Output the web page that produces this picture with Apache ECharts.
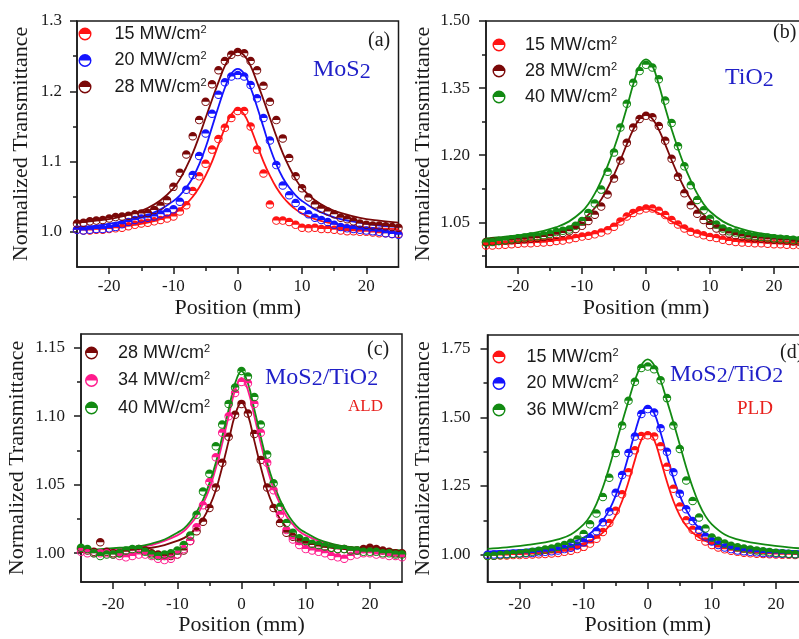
<!DOCTYPE html>
<html>
<head>
<meta charset="utf-8">
<script src="https://cdn.jsdelivr.net/npm/echarts@6/dist/echarts.min.js"></script>
<style>
  html, body { margin: 0; padding: 0; background: #fff; }
  #chart { width: 799px; height: 639px; }
</style>
</head>
<body>
<div id="chart"></div>
<script>
// ---- Z-scan positions (mm) ----
const posX = [-25,-24,-23,-22,-21,-20,-19,-18,-17,-16,-15,-14,-13,-12,-11,-10,-9,-8,-7,-6,-5,-4,-3,-2,-1,
  0,1,2,3,4,5,6,7,8,9,10,11,12,13,14,15,16,17,18,19,20,21,22,23,24,25];
const fitX = [-25,-22,-19,-16,-14,-12,-10,-9,-8,-7,-6,-5,-4,-3,-2,-1,0,1,2,3,4,5,6,7,8,9,10,12,14,16,19,22,25];

// ---- tick labels ----
const xMajorTicks = [-20, -10, 0, 10, 20];
const xMinorTicks = [-15, -5, 5, 15];
const yMajorA = [1.0, 1.1, 1.2, 1.3];      const yMinorA = [1.05, 1.15, 1.25];
const yMajorB = [1.05, 1.20, 1.35, 1.50];  const yMinorB = [0.975, 1.125, 1.275, 1.425];
const yMajorC = [1.00, 1.05, 1.10, 1.15];  const yMinorC = [1.025, 1.075, 1.125];
const yMajorD = [1.00, 1.25, 1.50, 1.75];  const yMinorD = [1.125, 1.375, 1.625];

// ---- (a) MoS2 ----
const aIntensity = [15, 20, 28];
const aPts15 = [1.003,1.002,1.002,1.003,1.003,1.004,1.005,1.006,1.008,1.010,
  1.012,1.013,1.015,1.017,1.019,1.022,1.029,1.038,1.058,1.079,
  1.097,1.117,1.132,1.148,1.162, 1.172,
  1.172,1.150,1.117,1.083,1.039,1.016,1.016,1.014,1.010,1.006,
  1.005,1.006,1.004,1.004,1.003,1.002,1.001,1.001,1.000,1.000,
  0.999,0.998,0.998,0.997,0.997];
const aPts20 = [1.003,1.002,1.003,1.004,1.004,1.005,1.007,1.011,1.014,1.017,
  1.019,1.020,1.022,1.025,1.028,1.032,1.043,1.060,1.081,1.108,
  1.140,1.168,1.195,1.213,1.221, 1.223,
  1.221,1.209,1.190,1.162,1.130,1.095,1.066,1.052,1.041,1.031,
  1.025,1.020,1.017,1.014,1.010,1.007,1.005,1.004,1.003,1.002,
  1.001,1.000,0.998,0.997,0.996];
const aPts28 = [1.012,1.013,1.015,1.016,1.017,1.019,1.021,1.022,1.023,1.025,
  1.026,1.027,1.031,1.037,1.045,1.064,1.084,1.110,1.136,1.159,
  1.185,1.210,1.230,1.243,1.252, 1.256,
  1.254,1.243,1.230,1.208,1.185,1.159,1.133,1.105,1.079,1.062,
  1.049,1.039,1.033,1.029,1.025,1.020,1.018,1.015,1.012,1.010,
  1.009,1.009,1.008,1.007,1.006];
const aFit15 = [1.004,1.005,1.007,1.010,1.013,1.018,1.026,1.032,1.040,1.050,1.063,1.080,1.100,1.124,1.148,1.167,
  1.175, 1.167,1.148,1.124,1.100,1.080,1.063,1.050,1.040,1.032,1.026,1.018,1.013,1.010,1.007,1.005,1.004];
const aFit20 = [1.007,1.009,1.013,1.018,1.024,1.032,1.044,1.052,1.063,1.077,1.096,1.120,1.149,1.178,1.205,1.225,
  1.232, 1.225,1.205,1.178,1.149,1.120,1.096,1.077,1.063,1.052,1.044,1.032,1.024,1.018,1.013,1.009,1.007];
const aFit28 = [1.013,1.016,1.020,1.027,1.034,1.045,1.062,1.075,1.092,1.112,1.136,1.162,1.188,1.213,1.236,1.251,
  1.256, 1.251,1.236,1.213,1.188,1.162,1.136,1.112,1.092,1.075,1.062,1.045,1.034,1.027,1.020,1.016,1.013];

// ---- (b) TiO2 ----
const bIntensity = [15, 28, 40];
const bPts15 = [0.998,0.998,0.999,1.000,1.001,1.002,1.003,1.003,1.004,1.005,
  1.006,1.008,1.009,1.012,1.015,1.018,1.020,1.023,1.027,1.032,
  1.040,1.052,1.063,1.071,1.077, 1.081,
  1.081,1.076,1.066,1.055,1.045,1.036,1.029,1.025,1.021,1.017,
  1.015,1.011,1.008,1.006,1.005,1.004,1.003,1.003,1.002,1.001,
  1.001,1.000,0.999,0.999,0.998];
const bPts28 = [1.006,1.007,1.008,1.009,1.010,1.011,1.012,1.013,1.015,1.017,
  1.019,1.022,1.026,1.030,1.035,1.042,1.053,1.067,1.085,1.112,
  1.148,1.188,1.228,1.262,1.281, 1.288,
  1.285,1.265,1.232,1.192,1.152,1.115,1.088,1.069,1.055,1.044,
  1.036,1.030,1.025,1.021,1.018,1.016,1.014,1.013,1.012,1.011,
  1.010,1.009,1.007,1.006,1.005];
const bPts40 = [1.005,1.006,1.008,1.010,1.012,1.014,1.016,1.018,1.019,1.021,
  1.024,1.028,1.031,1.034,1.042,1.053,1.071,1.092,1.123,1.163,
  1.206,1.262,1.315,1.362,1.388, 1.402,
  1.396,1.370,1.322,1.272,1.220,1.175,1.133,1.100,1.077,1.058,
  1.045,1.036,1.030,1.027,1.024,1.021,1.019,1.017,1.016,1.014,
  1.013,1.012,1.011,1.010,1.009];
const bFit15 = [1.002,1.003,1.005,1.007,1.010,1.014,1.019,1.022,1.026,1.031,1.037,1.044,1.052,1.061,1.070,1.077,
  1.080, 1.077,1.070,1.061,1.052,1.044,1.037,1.031,1.026,1.022,1.019,1.014,1.010,1.007,1.005,1.003,1.002];
const bFit28 = [1.011,1.013,1.017,1.023,1.029,1.039,1.055,1.067,1.082,1.101,1.126,1.156,1.189,1.224,1.257,1.281,
  1.290, 1.281,1.257,1.224,1.189,1.156,1.126,1.101,1.082,1.067,1.055,1.039,1.029,1.023,1.017,1.013,1.011];
const bFit40 = [1.014,1.018,1.023,1.031,1.039,1.052,1.074,1.091,1.114,1.143,1.176,1.215,1.258,1.306,1.358,1.400,
  1.414, 1.400,1.358,1.306,1.258,1.215,1.176,1.143,1.114,1.091,1.074,1.052,1.039,1.031,1.023,1.018,1.014];

// ---- (c) MoS2/TiO2, ALD ----
const cIntensity = [28, 34, 40];
const cPts28 = [1.003,1.002,1.001,1.008,1.001,1.000,1.000,1.001,1.002,1.003,
  1.002,1.000,0.999,0.998,0.998,0.999,1.002,1.009,1.016,1.023,
  1.033,1.048,1.066,1.085,1.101, 1.109,
  1.102,1.087,1.068,1.048,1.033,1.022,1.015,1.012,1.009,1.007,
  1.006,1.005,1.004,1.004,1.003,1.003,1.002,1.002,1.003,1.004,
  1.003,1.002,1.001,1.000,1.000];
const cPts34 = [1.001,1.000,1.000,1.000,1.000,0.999,0.998,0.997,0.998,0.999,
  0.999,0.998,0.996,0.995,0.996,0.999,1.003,1.009,1.019,1.035,
  1.052,1.070,1.088,1.100,1.117, 1.125,
  1.124,1.109,1.088,1.066,1.046,1.028,1.017,1.010,1.006,1.003,
  1.002,1.001,1.000,0.998,0.997,0.996,0.998,0.999,1.000,1.000,
  0.999,0.999,0.998,0.998,0.997];
const cPts40 = [1.004,1.003,1.000,0.998,0.999,0.999,1.000,1.002,1.003,1.003,
  1.001,0.999,0.998,0.999,1.000,1.002,1.006,1.013,1.028,1.045,
  1.058,1.078,1.094,1.109,1.121, 1.133,
  1.129,1.114,1.094,1.072,1.051,1.034,1.022,1.015,1.011,1.009,
  1.007,1.006,1.005,1.004,1.003,1.003,1.002,1.002,1.001,1.001,
  1.001,1.000,1.000,0.999,0.999];
const cFit28 = [1.001,1.001,1.002,1.003,1.004,1.006,1.009,1.011,1.014,1.019,1.025,1.034,1.046,1.063,1.082,1.101,
  1.110, 1.101,1.082,1.063,1.046,1.034,1.025,1.019,1.014,1.011,1.009,1.006,1.004,1.003,1.002,1.001,1.001];
const cFit34 = [1.001,1.002,1.003,1.004,1.006,1.009,1.013,1.016,1.021,1.027,1.036,1.047,1.062,1.080,1.100,1.119,
  1.128, 1.119,1.100,1.080,1.062,1.047,1.036,1.027,1.021,1.016,1.013,1.009,1.006,1.004,1.003,1.002,1.001];
const cFit40 = [1.002,1.003,1.004,1.005,1.007,1.010,1.015,1.018,1.023,1.030,1.039,1.051,1.066,1.085,1.105,1.124,
  1.133, 1.124,1.105,1.085,1.066,1.051,1.039,1.030,1.023,1.018,1.015,1.010,1.007,1.005,1.004,1.003,1.002];

// ---- (d) MoS2/TiO2, PLD ----
const dIntensity = [15, 20, 36];
const dPts15 = [0.996,0.996,0.997,0.997,0.998,0.998,0.999,1.000,1.001,1.002,
  1.004,1.006,1.010,1.014,1.020,1.028,1.040,1.058,1.082,1.115,
  1.160,1.220,1.300,1.380,1.432, 1.435,
  1.430,1.395,1.320,1.240,1.175,1.125,1.090,1.065,1.048,1.035,
  1.026,1.019,1.014,1.010,1.007,1.005,1.003,1.002,1.001,1.000,
  0.999,0.999,0.998,0.998,0.997];
const dPts20 = [0.999,1.000,1.001,1.002,1.003,1.004,1.005,1.006,1.008,1.010,
  1.012,1.015,1.020,1.025,1.033,1.045,1.060,1.085,1.118,1.157,
  1.225,1.290,1.370,1.430,1.512, 1.530,
  1.518,1.460,1.375,1.300,1.222,1.165,1.122,1.090,1.066,1.048,
  1.035,1.026,1.020,1.015,1.012,1.010,1.008,1.006,1.005,1.004,
  1.003,1.002,1.001,1.000,0.999];
const dPts36 = [0.995,0.996,0.998,1.000,1.002,1.004,1.007,1.010,1.014,1.018,
  1.022,1.028,1.035,1.043,1.055,1.075,1.110,1.150,1.210,1.280,
  1.370,1.470,1.560,1.630,1.680, 1.685,
  1.675,1.635,1.570,1.470,1.385,1.270,1.195,1.135,1.095,1.062,
  1.050,1.040,1.032,1.027,1.022,1.018,1.015,1.012,1.009,1.007,
  1.005,1.003,1.001,1.000,0.999];
const dFit15 = [1.006,1.008,1.011,1.016,1.021,1.029,1.041,1.050,1.062,1.080,1.105,1.142,1.195,1.265,1.345,1.418,
  1.445, 1.418,1.345,1.265,1.195,1.142,1.105,1.080,1.062,1.050,1.041,1.029,1.021,1.016,1.011,1.008,1.006];
const dFit20 = [1.011,1.014,1.018,1.025,1.032,1.043,1.062,1.077,1.097,1.125,1.163,1.215,1.280,1.360,1.445,1.515,
  1.541, 1.515,1.445,1.360,1.280,1.215,1.163,1.125,1.097,1.077,1.062,1.043,1.032,1.025,1.018,1.014,1.011];
const dFit36 = [1.021,1.026,1.034,1.044,1.055,1.073,1.110,1.140,1.185,1.245,1.318,1.400,1.482,1.560,1.635,1.690,
  1.711, 1.690,1.635,1.560,1.482,1.400,1.318,1.245,1.185,1.140,1.110,1.073,1.055,1.044,1.034,1.026,1.021];

// ---- styling ----
const INK = '#1a1a1a';
const RED = '#ff1414', BLUE = '#1414ff', WINE = '#7a0808', GREEN = '#128a12', PINK = '#ff1a8c';
const TEXT_BLUE = '#2020c8', TEXT_RED = '#e8201c';
const SERIF = '"Liberation Serif", "Times New Roman", serif';
const SANS = '"Liberation Sans", Arial, sans-serif';
// ring with the upper half filled (lower half left open)
const HALF_DOT = 'path://M0,10A10,10,0,1,1,20,10A10,10,0,1,1,0,10Z' +
  'M2.2,10A7.8,7.8,0,1,0,17.8,10A7.8,7.8,0,1,0,2.2,10Z' +
  'M1.8,10A8.2,8.2,0,0,1,18.2,10Z';

const panels = [
  { grid: { left: 77, top: 21, width: 321.5, height: 246 },
    yMin: 0.95, yMax: 1.3, yMajor: yMajorA, yMinor: yMinorA, dec: 1,
    yNameGap: 45, yLabelMargin: 15, xLabelMargin: 11, xNameGap: 30,
    legend: { left: 78.5, top: 24, gap: 6.5, textGap: 18 },
    series: [
      { id: 'a1', mw: aIntensity[0], color: RED, pts: aPts15, fit: aFit15 },
      { id: 'a2', mw: aIntensity[1], color: BLUE, pts: aPts20, fit: aFit20 },
      { id: 'a3', mw: aIntensity[2], color: WINE, pts: aPts28, fit: aFit28 } ] },
  { grid: { left: 486, top: 21, width: 320, height: 246 },
    yMin: 0.95, yMax: 1.5, yMajor: yMajorB, yMinor: yMinorB, dec: 2,
    yNameGap: 52, yLabelMargin: 16, xLabelMargin: 11, xNameGap: 30,
    legend: { left: 492.5, top: 35, gap: 6, textGap: 14.5 },
    series: [
      { id: 'b1', mw: bIntensity[0], color: RED, pts: bPts15, fit: bFit15 },
      { id: 'b2', mw: bIntensity[1], color: WINE, pts: bPts28, fit: bFit28 },
      { id: 'b3', mw: bIntensity[2], color: GREEN, pts: bPts40, fit: bFit40 } ] },
  { grid: { left: 81, top: 334, width: 321, height: 248 },
    yMin: 0.979, yMax: 1.16, yMajor: yMajorC, yMinor: yMinorC, dec: 2,
    yNameGap: 53, yLabelMargin: 16, xLabelMargin: 14, xNameGap: 32,
    legend: { left: 85, top: 343, gap: 7.5, textGap: 15 },
    series: [
      { id: 'c1', mw: cIntensity[0], color: WINE, pts: cPts28, fit: cFit28 },
      { id: 'c2', mw: cIntensity[1], color: PINK, pts: cPts34, fit: cFit34 },
      { id: 'c3', mw: cIntensity[2], color: GREEN, pts: cPts40, fit: cFit40 } ] },
  { grid: { left: 487.5, top: 335, width: 320.5, height: 247 },
    yMin: 0.9, yMax: 1.8, yMajor: yMajorD, yMinor: yMinorD, dec: 2,
    yNameGap: 53, yLabelMargin: 17, xLabelMargin: 14, xNameGap: 32,
    legend: { left: 492.5, top: 347, gap: 6.5, textGap: 16 },
    series: [
      { id: 'd1', mw: dIntensity[0], color: RED, pts: dPts15, fit: dFit15 },
      { id: 'd2', mw: dIntensity[1], color: BLUE, pts: dPts20, fit: dFit20 },
      { id: 'd3', mw: dIntensity[2], color: GREEN, pts: dPts36, fit: dFit36 } ] }
];

const labelOf = {};
const option = {
  animation: false,
  backgroundColor: '#ffffff',
  grid: [], xAxis: [], yAxis: [], legend: [], series: [], graphic: []
};

const tickLine = { color: INK, width: 1.5 };
const tickFont = { fontFamily: SERIF, fontSize: 17, color: INK };
const nameFont = { fontFamily: SERIF, fontSize: 22, color: INK };

panels.forEach((p, gi) => {
  option.grid.push(Object.assign({ show: true, borderColor: INK, borderWidth: 1.5,
    containLabel: false, outerBoundsMode: 'none' }, p.grid));

  const xi = option.xAxis.length;
  option.xAxis.push({
    type: 'value', gridIndex: gi, min: -25, max: 25, position: 'bottom',
    name: 'Position (mm)', nameLocation: 'middle', nameGap: p.xNameGap, nameTextStyle: nameFont,
    axisLine: { show: true, onZero: false, lineStyle: tickLine },
    axisTick: { show: true, length: 7, lineStyle: tickLine, customValues: xMajorTicks },
    axisLabel: Object.assign({ show: true, margin: p.xLabelMargin, customValues: xMajorTicks,
      formatter: v => String(v) }, tickFont),
    splitLine: { show: false }
  });
  option.xAxis.push({
    type: 'value', gridIndex: gi, min: -25, max: 25, position: 'bottom',
    axisLine: { show: false, onZero: false },
    axisTick: { show: true, length: 4, lineStyle: tickLine, customValues: xMinorTicks },
    axisLabel: { show: false }, splitLine: { show: false }
  });

  const yi = option.yAxis.length;
  option.yAxis.push({
    type: 'value', gridIndex: gi, min: p.yMin, max: p.yMax, position: 'left',
    name: 'Normalized Transmittance', nameLocation: 'middle', nameGap: p.yNameGap,
    nameRotate: 90, nameTextStyle: nameFont,
    axisLine: { show: true, onZero: false, lineStyle: tickLine },
    axisTick: { show: true, length: 7, lineStyle: tickLine, customValues: p.yMajor },
    axisLabel: Object.assign({ show: true, margin: p.yLabelMargin, customValues: p.yMajor,
      formatter: v => Number(v).toFixed(p.dec) }, tickFont),
    splitLine: { show: false }
  });
  option.yAxis.push({
    type: 'value', gridIndex: gi, min: p.yMin, max: p.yMax, position: 'left',
    axisLine: { show: false, onZero: false },
    axisTick: { show: true, length: 4, lineStyle: tickLine, customValues: p.yMinor },
    axisLabel: { show: false }, splitLine: { show: false }
  });

  p.series.forEach(s => {
    labelOf[s.id] = s.mw;
    option.series.push({
      type: 'line', xAxisIndex: xi, yAxisIndex: yi, silent: true,
      data: fitX.map((x, k) => [x, s.fit[k]]),
      smooth: 0.4, showSymbol: false, symbol: 'none',
      lineStyle: { color: s.color, width: 1.8 }, z: 2
    });
  });
  p.series.forEach(s => {
    option.series.push({
      type: 'scatter', name: s.id, xAxisIndex: xi, yAxisIndex: yi,
      data: posX.map((x, k) => [x, s.pts[k]]),
      symbol: HALF_DOT, symbolSize: 8.5,
      itemStyle: { color: s.color, opacity: 1 }, z: 3
    });
  });

  option.legend.push({
    data: p.series.map(s => ({ name: s.id, icon: HALF_DOT })),
    orient: 'vertical', left: p.legend.left, top: p.legend.top, padding: 0,
    itemWidth: 13, itemHeight: 13, itemGap: p.legend.gap, selectedMode: false,
    formatter: name => '{g| }' + labelOf[name] + ' MW/cm{s|2}',
    textStyle: {
      fontFamily: SANS, fontSize: 18, color: INK, lineHeight: 20,
      rich: {
        g: { width: p.legend.textGap, fontSize: 18, lineHeight: 20 },
        s: { fontFamily: SANS, fontSize: 11, color: INK, lineHeight: 10, verticalAlign: 'top' }
      }
    }
  });
});

// panel tags and material labels
function tag(text, x, y) {
  return { type: 'text', x, y, silent: true,
    style: { text, fontFamily: SERIF, fontSize: 20, fill: INK, align: 'left', verticalAlign: 'middle' } };
}
function formula(text, x, y, size) {
  return { type: 'text', x, y, silent: true,
    style: { text, align: 'left', verticalAlign: 'middle', fontFamily: SERIF, fontSize: size, fill: TEXT_BLUE,
      rich: {
        m: { fontFamily: SERIF, fontSize: size, fill: TEXT_BLUE, lineHeight: size + 2 },
        s: { fontFamily: SERIF, fontSize: size - 2, fill: TEXT_BLUE, lineHeight: 12, verticalAlign: 'bottom' }
      } } };
}
function note(text, x, y, size) {
  return { type: 'text', x, y, silent: true,
    style: { text, fontFamily: SERIF, fontSize: size, fill: TEXT_RED, align: 'left', verticalAlign: 'middle' } };
}
option.graphic = [
  tag('(a)', 368, 41), tag('(b)', 773, 33), tag('(c)', 367, 350), tag('(d)', 780, 353),
  formula('{m|MoS}{s|2}', 313, 70, 24),
  formula('{m|TiO}{s|2}', 725, 78, 24),
  formula('{m|MoS}{s|2}{m|/TiO}{s|2}', 265, 377.5, 24),
  formula('{m|MoS}{s|2}{m|/TiO}{s|2}', 670, 374.5, 24),
  note('ALD', 348, 407, 17),
  note('PLD', 737, 409, 19)
];

const chart = echarts.init(document.getElementById('chart'), null, { renderer: 'canvas' });
chart.setOption(option);
</script>
</body>
</html>
